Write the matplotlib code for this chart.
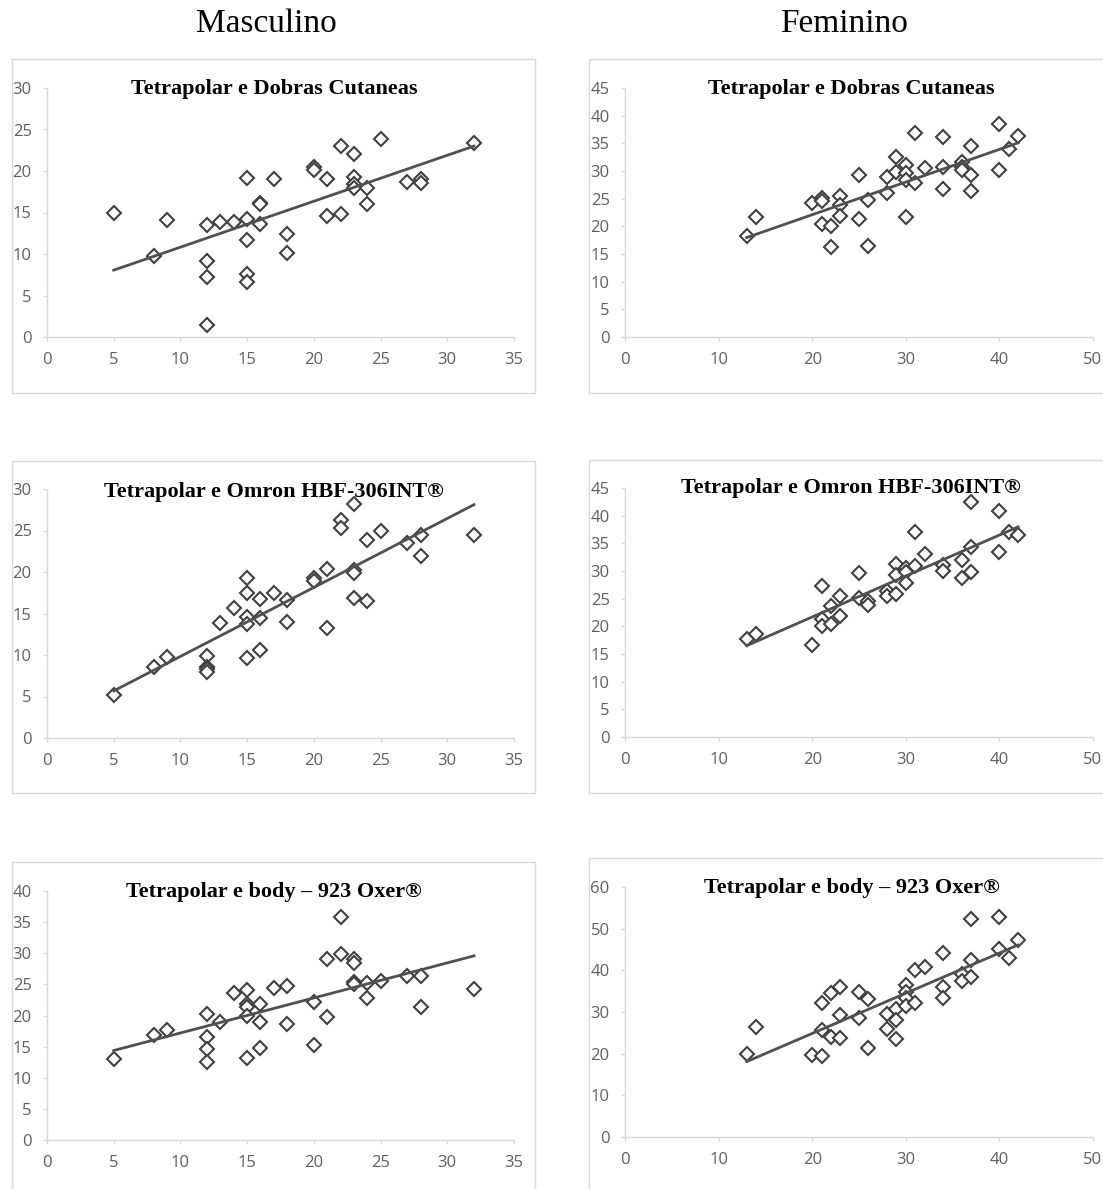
import numpy as np
import matplotlib
matplotlib.use("Agg")
import matplotlib.pyplot as plt
from matplotlib.patches import Rectangle

# --- data ------------------------------------------------------------------
# Masculino: same subjects (x) in all three panels
masc_x = [5, 8, 9, 12, 12, 12, 12, 13, 14, 15, 15, 15, 15, 15, 16, 16, 16, 17, 18, 18,
          20, 20, 21, 21, 22, 22, 23, 23, 23, 23, 24, 24, 25, 27, 28, 28, 32]
masc_dobras = [14.9, 9.7, 14.1, 13.5, 9.2, 7.2, 1.5, 13.8, 13.8, 19.2, 14.2, 11.7, 7.6, 6.6,
               16.2, 16.0, 13.6, 19.0, 12.4, 10.1, 20.5, 20.1, 19.0, 14.6, 23.0, 14.8,
               22.1, 19.3, 18.4, 18.0, 18.0, 16.0, 23.8, 18.7, 19.0, 18.5, 23.4]
masc_omron = [5.2, 8.5, 9.8, 9.9, 8.6, 8.3, 8.0, 13.9, 15.7, 19.3, 17.5, 14.6, 13.7, 9.6,
              16.7, 14.4, 10.6, 17.5, 16.6, 14.0, 19.3, 18.9, 20.4, 13.2, 26.3, 25.3,
              28.2, 20.3, 19.9, 16.9, 23.8, 16.5, 24.9, 23.5, 24.4, 21.9, 24.4]
masc_oxer = [13.0, 16.9, 17.6, 20.2, 16.6, 14.6, 12.5, 19.0, 23.6, 24.1, 21.9, 21.4, 20.0, 13.1,
             21.9, 18.9, 14.8, 24.4, 24.7, 18.6, 22.2, 15.3, 29.1, 19.8, 35.9, 29.9,
             29.1, 28.4, 25.4, 25.0, 25.3, 22.8, 25.6, 26.4, 26.4, 21.4, 24.3]

# Feminino
fem_x_dobras = [13, 14, 20, 21, 21, 21, 22, 22, 23, 23, 23, 25, 25, 26, 26, 28, 28, 29, 29,
                30, 30, 30, 30, 31, 31, 32, 34, 34, 34, 36, 36, 36, 37, 37, 37, 40, 40, 41, 42]
fem_dobras = [18.2, 21.7, 24.2, 25.2, 24.6, 20.5, 20.1, 16.2, 25.4, 23.9, 21.9, 29.3, 21.3,
              24.8, 16.4, 28.9, 26.1, 32.6, 29.9, 31.1, 29.6, 28.3, 21.7, 36.8, 27.9, 30.5,
              36.2, 30.8, 26.8, 31.7, 30.7, 30.2, 34.6, 29.3, 26.4, 38.5, 30.1, 33.9, 36.4]

fem_x_omron = [13, 14, 20, 21, 21, 21, 22, 22, 23, 23, 25, 25, 26, 26, 28, 28, 29, 29, 29,
               30, 30, 30, 31, 31, 32, 34, 34, 36, 36, 37, 37, 37, 40, 40, 41, 42]
fem_omron = [17.8, 18.7, 16.6, 27.2, 21.3, 20.1, 23.7, 20.4, 25.4, 21.9, 29.6, 25.2, 24.5,
             23.9, 26.3, 25.5, 31.3, 29.3, 25.8, 30.5, 29.9, 27.8, 37.0, 30.9, 33.0, 31.1,
             30.0, 32.0, 28.8, 42.5, 34.3, 29.9, 40.8, 33.5, 37.0, 36.5]

fem_x_oxer = [13, 14, 20, 21, 21, 21, 22, 22, 23, 23, 23, 25, 25, 26, 26, 28, 28, 29, 29, 29,
              30, 30, 30, 30, 31, 31, 32, 34, 34, 34, 36, 36, 37, 37, 37, 40, 40, 41, 42]
fem_oxer = [19.9, 26.5, 19.6, 32.1, 25.7, 19.5, 34.5, 24.1, 36.1, 29.3, 23.7, 34.7, 28.5,
            33.1, 21.3, 29.5, 25.9, 30.7, 28.1, 23.5, 36.6, 34.9, 33.4, 31.5, 40.1, 32.1,
            40.9, 44.1, 36.1, 33.3, 39.1, 37.5, 52.3, 42.5, 38.3, 52.8, 45.1, 42.9, 47.3]

titles = ["Tetrapolar e Dobras Cutaneas",
          "Tetrapolar e Omron HBF-306INT®",
          "Tetrapolar e body – 923 Oxer®"]
headers = ["Masculino", "Feminino"]

W, H = 1103, 1189
GRID = "#d9d9d9"
TICK_TXT = "#5f5f5f"
MARK = "#404040"


def fig_rect(left, top, right, bottom):
    # pixel box (from top-left) -> figure fraction [x, y, w, h]
    return [left / W, 1 - bottom / H, (right - left) / W, (bottom - top) / H]


def draw_panel(fig, x, y, title, box, axes_px, title_px, xmax, xstep, ymax, ystep):
    fig.patches.append(Rectangle((box[0] / W, 1 - box[3] / H),
                                 (box[2] - box[0]) / W, (box[3] - box[1]) / H,
                                 transform=fig.transFigure, fill=False,
                                 ec=GRID, lw=1.0, zorder=0))
    ax = fig.add_axes(fig_rect(*axes_px))
    ax.set_facecolor("none")
    ax.plot(x, y, ls="", marker="D", ms=6.8, mfc="white", mec=MARK, mew=1.5,
            zorder=3, clip_on=False)

    # linear trendline over the data range
    slope, icpt = np.polyfit(x, y, 1)
    xl = np.array([min(x), max(x)])
    ax.plot(xl, slope * xl + icpt, c="#505050", lw=2.0, zorder=4)

    ax.set_xlim(0, xmax)
    ax.set_ylim(0, ymax)
    ax.set_xticks(np.arange(0, xmax + 1, xstep))
    ax.set_yticks(np.arange(0, ymax + 1, ystep))
    for side in ("top", "right"):
        ax.spines[side].set_visible(False)
    for side in ("left", "bottom"):
        ax.spines[side].set_color(GRID)
        ax.spines[side].set_linewidth(1.0)
    ax.tick_params(direction="out", length=3, width=1.0, color=GRID,
                   labelcolor=TICK_TXT, labelsize=12, pad=8)
    for lab in ax.get_xticklabels() + ax.get_yticklabels():
        lab.set_family("Open Sans")

    fig.text(title_px[0] / W, 1 - title_px[1] / H, title, ha="center", va="center",
             family="Liberation Serif", fontweight="bold", fontsize=16, color="black")
    return ax


def main():
    fig = plt.figure(figsize=(W / 100, H / 100), dpi=100)
    fig.patch.set_facecolor("white")

    fig.text(266 / W, 1 - 24 / H, headers[0], ha="center", va="center",
             family="Liberation Serif", fontsize=24)
    fig.text(844 / W, 1 - 24 / H, headers[1], ha="center", va="center",
             family="Liberation Serif", fontsize=24)

    # left column (Masculino)
    draw_panel(fig, masc_x, masc_dobras, titles[0], (12, 59, 535, 393),
               (47, 88, 514, 337), (274, 89), 35, 5, 30, 5)
    draw_panel(fig, masc_x, masc_omron, titles[1], (12, 461, 535, 793),
               (47, 489, 514, 738), (274, 492), 35, 5, 30, 5)
    draw_panel(fig, masc_x, masc_oxer, titles[2], (12, 862, 535, 1210),
               (47, 891, 514, 1140), (274, 892), 35, 5, 40, 5)

    # right column (Feminino)
    draw_panel(fig, fem_x_dobras, fem_dobras, titles[0], (589, 59, 1120, 393),
               (625, 88, 1093, 337), (851, 89), 50, 10, 45, 5)
    draw_panel(fig, fem_x_omron, fem_omron, titles[1], (589, 460, 1120, 793),
               (625, 488, 1093, 737), (851, 488), 50, 10, 45, 5)
    draw_panel(fig, fem_x_oxer, fem_oxer, titles[2], (589, 858, 1120, 1210),
               (625, 887, 1093, 1137), (852, 888), 50, 10, 60, 10)

    fig.savefig("out.png", dpi=100)


if __name__ == "__main__":
    main()
